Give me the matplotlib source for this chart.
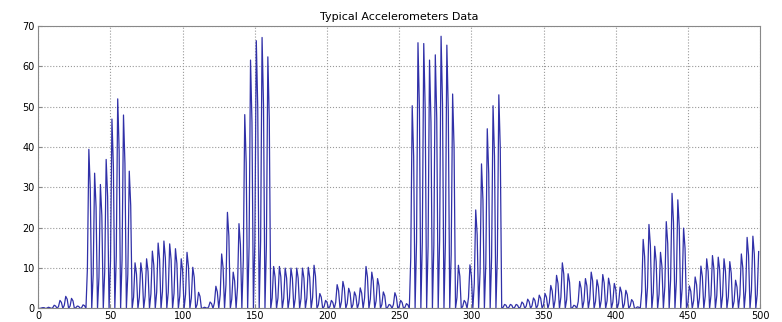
import numpy as np
import matplotlib
matplotlib.use('Agg')
from matplotlib import pyplot as plt

# acceleration magnitude, one row = one stride cycle (4 samples)
accel = [
    0, 0, 0.1, 0.2,   0.2, 0, 0.1, 0.3,   0.2, 0, 0.2, 0.8,   0.6, 0, 0.5, 2.0,
    1.5, 0, 0.8, 3.0,   2.3, 0, 0.6, 2.5,   1.9, 0, 0.2, 0.6,   0.5, 0, 0.2, 0.9,
    0.7, 0, 9.9, 39.4,   29.6, 0, 8.4, 33.5,   25.1, 0, 7.7, 30.7,   23.0, 0, 9.2, 36.9,
    27.7, 0, 11.7, 46.9,   35.2, 0, 13.0, 51.9,   38.9, 0, 12.0, 47.9,   35.9, 0, 8.5, 34.0,
    25.5, 0, 2.8, 11.3,   8.5, 0, 2.8, 11.3,   8.5, 0, 3.1, 12.3,   9.2, 0, 3.6, 14.2,
    10.7, 0, 4.1, 16.2,   12.2, 0, 4.2, 16.7,   12.5, 0, 4.0, 16.0,   12.0, 0, 3.7, 14.8,
    11.1, 0, 3.1, 12.3,   9.2, 0, 3.5, 13.9,   10.4, 0, 2.6, 10.2,   7.7, 0, 1.0, 4.0,
    3.0, 0, 0.1, 0.3,   0.2, 0, 0.4, 1.6,   1.2, 0, 1.4, 5.5,   4.1, 0, 3.4, 13.5,
    10.1, 0, 6.0, 23.8,   17.9, 0, 2.3, 9.0,   6.8, 0, 5.3, 21.0,   15.8, 0, 12.0, 48.0,
    36.0, 0, 15.4, 61.5,   46.1, 0, 16.6, 66.3,   49.7, 0, 16.8, 67.1,   50.3, 0, 15.6, 62.3,
    46.7, 0, 2.6, 10.4,   7.8, 0, 2.6, 10.4,   7.8, 0, 2.5, 10.0,   7.5, 0, 2.5, 10.0,
    7.5, 0, 2.5, 10.0,   7.5, 0, 2.5, 10.0,   7.5, 0, 2.6, 10.2,   7.7, 0, 2.7, 10.7,
    8.0, 0, 0.9, 3.7,   2.8, 0, 0.5, 2.0,   1.5, 0, 0.5, 2.0,   1.5, 0, 1.5, 5.9,
    4.4, 0, 1.7, 6.7,   5.0, 0, 1.3, 5.0,   3.8, 0, 1.0, 4.1,   3.1, 0, 1.3, 5.1,
    3.8, 0, 2.6, 10.4,   7.8, 0, 2.3, 9.0,   6.8, 0, 1.9, 7.4,   5.6, 0, 1.0, 4.1,
    3.1, 0, 0.3, 1.0,   0.8, 0, 1.0, 3.9,   2.9, 0, 0.5, 2.0,   1.5, 0, 0.3, 1.2,
    0.9, 0, 12.6, 50.2,   37.7, 0, 16.5, 65.8,   49.4, 0, 16.4, 65.6,   49.2, 0, 15.4, 61.5,
    46.1, 0, 15.7, 62.8,   47.1, 0, 16.9, 67.4,   50.6, 0, 16.3, 65.2,   48.9, 0, 13.3, 53.1,
    39.8, 0, 2.7, 10.7,   8.0, 0, 0.5, 2.0,   1.5, 0, 2.7, 10.8,   8.1, 0, 6.1, 24.4,
    18.3, 0, 9.0, 35.8,   26.9, 0, 11.1, 44.5,   33.4, 0, 12.6, 50.2,   37.7, 0, 13.2, 52.9,
    39.7, 0, 0.3, 1.0,   0.8, 0, 0.3, 1.0,   0.8, 0, 0.3, 1.0,   0.8, 0, 0.4, 1.6,
    1.2, 0, 0.6, 2.3,   1.7, 0, 0.7, 2.6,   2.0, 0, 0.8, 3.3,   2.5, 0, 0.9, 3.7,
    2.8, 0, 1.4, 5.7,   4.3, 0, 2.1, 8.2,   6.2, 0, 2.8, 11.3,   8.5, 0, 2.2, 8.6,
    6.5, 0, 0.2, 0.8,   0.6, 0, 1.7, 6.7,   5.0, 0, 1.9, 7.4,   5.6, 0, 2.3, 9.0,
    6.8, 0, 1.8, 7.1,   5.3, 0, 2.1, 8.4,   6.3, 0, 1.9, 7.5,   5.6, 0, 1.6, 6.2,
    4.7, 0, 1.3, 5.3,   4.0, 0, 1.1, 4.5,   3.4, 0, 0.6, 2.2,   1.7, 0, 0.1, 0.4,
    0.3, 0, 4.3, 17.1,   12.8, 0, 5.2, 20.8,   15.6, 0, 3.9, 15.4,   11.6, 0, 3.5, 13.9,
    10.4, 0, 5.4, 21.5,   16.1, 0, 7.1, 28.5,   21.4, 0, 6.7, 26.9,   20.2, 0, 5.0, 19.9,
    14.9, 0, 1.4, 5.6,   4.2, 0, 2.0, 7.8,   5.9, 0, 2.6, 10.5,   7.9, 0, 3.1, 12.3,
    9.2, 0, 3.3, 13.1,   9.8, 0, 3.2, 12.7,   9.5, 0, 3.1, 12.3,   9.2, 0, 2.9, 11.6,
    8.7, 0, 1.8, 7.0,   5.3, 0, 3.4, 13.5,   10.1, 0, 4.4, 17.6,   13.2, 0, 4.5, 17.9,
    13.4, 0, 3.5, 14.1,
]
samples = np.arange(len(accel))

x_ticks = [0, 50, 100, 150, 200, 250, 300, 350, 400, 450, 500]
y_ticks = [0, 10, 20, 30, 40, 50, 60, 70]

fig = plt.figure(figsize=(7.82, 3.22), dpi=100)
ax = fig.add_axes([0.049, 0.042, 0.923, 0.878])

ax.plot(samples, accel, color='#3030a8', linewidth=0.9)

ax.set_xlim(0, 500)
ax.set_ylim(0, 70)
ax.set_xticks(x_ticks)
ax.set_yticks(y_ticks)
ax.tick_params(direction='in', length=3, labelsize=7, color='#888888')
ax.tick_params(axis='x', pad=1.5)
ax.tick_params(axis='y', pad=2.5)
ax.grid(True, linestyle=':', color='#999999', linewidth=0.8)
for s in ax.spines.values():
    s.set_color('#888888')
    s.set_linewidth(0.8)

ax.set_title('Typical Accelerometers Data', fontsize=8, pad=4)

fig.savefig('out.png', dpi=100)
